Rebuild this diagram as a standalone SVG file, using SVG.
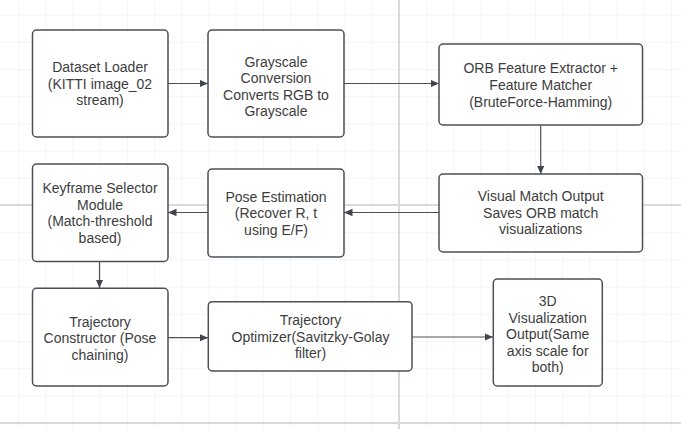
<svg xmlns="http://www.w3.org/2000/svg" width="681" height="429" viewBox="0 0 681 429">
<style>
.box{fill:#ffffff;stroke:#4b5059;stroke-width:1.5}
.lbl{font-family:"Liberation Sans",Arial,sans-serif;font-size:14px;fill:#3d3d3d;text-anchor:middle}
.edge{stroke:#4b5059;stroke-width:1.2;fill:none;marker-end:url(#arr)}
.major{stroke:#d9d9d9;stroke-width:2}
</style>
<defs>
<pattern id="grid" x="18.2" y="14.6" width="27.2" height="27.2" patternUnits="userSpaceOnUse">
<path d="M0,0 H27.2 M0,0 V27.2" stroke="#ebebeb" stroke-width="1" fill="none"/>
</pattern>
<marker id="arr" markerWidth="9" markerHeight="8" refX="8.5" refY="3.75" orient="auto" markerUnits="userSpaceOnUse">
<path d="M0,0 L8.5,3.75 L0,7.5 z" fill="#3f444d"/>
</marker>
</defs>
<rect width="681" height="429" fill="#ffffff"/>
<rect width="681" height="429" fill="url(#grid)"/>
<line class="major" x1="399" y1="0" x2="399" y2="429"/>
<line class="major" x1="0" y1="205" x2="681" y2="205"/>
<line class="major" x1="0" y1="423" x2="681" y2="423"/>

<g id="connectors">
<line class="edge" x1="168" y1="83.5" x2="208" y2="83.5"/>
<line class="edge" x1="344" y1="83.5" x2="439" y2="83.5"/>
<line class="edge" x1="540.7" y1="125" x2="540.7" y2="174"/>
<line class="edge" x1="439" y1="212.5" x2="344" y2="212.5"/>
<line class="edge" x1="208" y1="212.5" x2="168" y2="212.5"/>
<line class="edge" x1="99.5" y1="262" x2="99.5" y2="288"/>
<line class="edge" x1="168" y1="337.7" x2="208" y2="337.7"/>
<line class="edge" x1="412" y1="337" x2="493" y2="337"/>
</g>

<g id="dataset-loader">
<rect class="box" x="32.5" y="30" width="135.5" height="107" rx="4"/>
<text class="lbl"><tspan x="100" y="72">Dataset Loader</tspan><tspan x="100" y="88.5">(KITTI image_02</tspan><tspan x="100" y="105">stream)</tspan></text>
</g>

<g id="grayscale">
<rect class="box" x="208" y="30" width="136" height="107" rx="4"/>
<text class="lbl"><tspan x="276" y="66.5">Grayscale</tspan><tspan x="276" y="83">Conversion</tspan><tspan x="276" y="99.5">Converts RGB to</tspan><tspan x="276" y="116">Grayscale</tspan></text>
</g>

<g id="orb">
<rect class="box" x="439" y="44" width="203.5" height="81" rx="4"/>
<text class="lbl"><tspan x="540.7" y="73.3">ORB Feature Extractor +</tspan><tspan x="540.7" y="90">Feature Matcher</tspan><tspan x="540.7" y="106.7">(BruteForce-Hamming)</tspan></text>
</g>

<g id="visual-match">
<rect class="box" x="439" y="174" width="203.5" height="78" rx="4"/>
<text class="lbl"><tspan x="540.7" y="201">Visual Match Output</tspan><tspan x="540.7" y="217.7">Saves ORB match</tspan><tspan x="540.7" y="234.3">visualizations</tspan></text>
</g>

<g id="pose">
<rect class="box" x="208" y="169" width="136" height="88" rx="4"/>
<text class="lbl"><tspan x="276" y="201.7">Pose Estimation</tspan><tspan x="276" y="218.3">(Recover R, t</tspan><tspan x="276" y="235">using E/F)</tspan></text>
</g>

<g id="keyframe">
<rect class="box" x="32.5" y="164" width="135.5" height="97.5" rx="4"/>
<text class="lbl"><tspan x="100" y="193.3">Keyframe Selector</tspan><tspan x="100" y="209.8">Module</tspan><tspan x="100" y="226.3">(Match-threshold</tspan><tspan x="100" y="242.8">based)</tspan></text>
</g>

<g id="constructor">
<rect class="box" x="32.5" y="288.3" width="135.5" height="97.7" rx="4"/>
<text class="lbl"><tspan x="100" y="326.5">Trajectory</tspan><tspan x="100" y="343">Constructor (Pose</tspan><tspan x="100" y="359.5">chaining)</tspan></text>
</g>

<g id="optimizer">
<rect class="box" x="208.3" y="301.7" width="203.7" height="69.3" rx="4"/>
<text class="lbl"><tspan x="310.5" y="325">Trajectory</tspan><tspan x="310.5" y="341.7">Optimizer(Savitzky-Golay</tspan><tspan x="310.5" y="358.3">filter)</tspan></text>
</g>

<g id="viz3d">
<rect class="box" x="493.3" y="279" width="109" height="107" rx="4"/>
<text class="lbl"><tspan x="547.7" y="306">3D</tspan><tspan x="547.7" y="322.5">Visualization</tspan><tspan x="547.7" y="339">Output(Same</tspan><tspan x="547.7" y="355.5">axis scale for</tspan><tspan x="547.7" y="372">both)</tspan></text>
</g>
</svg>
